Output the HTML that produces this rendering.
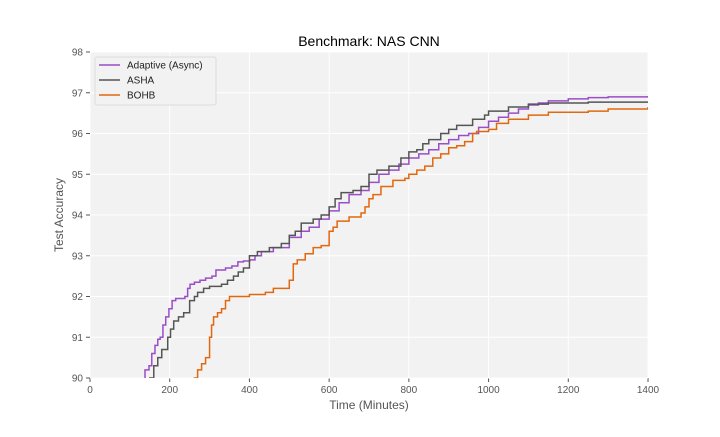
<!DOCTYPE html>
<html><head><meta charset="utf-8"><style>
body{margin:0;background:#fff;width:720px;height:432px;overflow:hidden;font-family:"Liberation Sans",sans-serif}
</style></head><body>
<svg id="chart" width="720" height="432" xmlns="http://www.w3.org/2000/svg" font-family="Liberation Sans, sans-serif"></svg>
<script>
const xTicks=[0,200,400,600,800,1000,1200,1400];
const yTicks=[90,91,92,93,94,95,96,97,98];
const seriesNames=["Adaptive (Async)","ASHA","BOHB"];
const seriesColors=["#9a4ec8","#555555","#e2680f"];
const adaptiveT=[138,148,155,163,170,176,183,190,198,206,215,238,245,251,262,276,290,306,316,340,356,371,385,401,414,430,460,500,530,550,575,600,625,650,680,700,725,750,775,800,825,850,875,900,925,950,975,1000,1025,1050,1075,1100,1125,1150,1200,1250,1300,1400];
const adaptiveV=[90.2,90.3,90.6,90.8,90.95,91.0,91.3,91.5,91.7,91.9,91.95,92.0,92.2,92.3,92.35,92.4,92.45,92.5,92.65,92.7,92.75,92.85,92.87,92.9,93.0,93.1,93.2,93.45,93.6,93.7,93.9,94.1,94.3,94.5,94.6,94.8,95.0,95.1,95.25,95.4,95.5,95.6,95.75,95.85,95.95,96.0,96.15,96.3,96.4,96.5,96.6,96.7,96.75,96.8,96.85,96.88,96.9,96.92];
const ashaT=[150,160,170,180,195,202,210,222,235,250,262,270,285,300,330,345,360,372,385,400,420,450,480,500,515,530,560,580,600,615,630,660,680,700,720,750,780,800,820,835,850,880,900,920,960,990,1000,1050,1100,1150,1250,1400];
const ashaV=[90.0,90.3,90.5,90.7,91.0,91.2,91.4,91.5,91.6,91.9,92.0,92.1,92.2,92.25,92.3,92.4,92.5,92.6,92.7,93.0,93.1,93.2,93.3,93.5,93.6,93.8,93.9,94.0,94.2,94.4,94.55,94.6,94.7,95.0,95.1,95.2,95.4,95.55,95.6,95.75,95.85,96.0,96.1,96.2,96.35,96.45,96.55,96.65,96.72,96.75,96.77,96.78];
const bohbT=[262,270,280,290,300,305,310,320,330,340,350,400,440,460,500,510,520,540,560,580,600,610,620,650,680,690,700,710,730,760,790,800,820,840,860,880,900,920,940,960,970,1000,1020,1050,1100,1150,1250,1300,1400];
const bohbV=[90.0,90.2,90.35,90.5,91.0,91.3,91.5,91.6,91.7,91.9,92.0,92.05,92.1,92.2,92.4,92.8,92.9,93.05,93.2,93.25,93.6,93.7,93.85,93.95,94.05,94.2,94.4,94.5,94.7,94.85,94.9,95.0,95.1,95.2,95.4,95.5,95.65,95.7,95.8,96.0,96.05,96.1,96.25,96.35,96.45,96.52,96.55,96.6,96.65];
const allT=[adaptiveT,ashaT,bohbT];
const allV=[adaptiveV,ashaV,bohbV];

const NS="http://www.w3.org/2000/svg";
const svg=document.getElementById("chart");
const L=90,R=648,T=52,B=378;
const xS=v=>L+(v-0)/(1400-0)*(R-L);
const yS=v=>B-(v-90)/(98-90)*(B-T);
function mk(tag,attrs,parent){const e=document.createElementNS(NS,tag);for(const k in attrs)e.setAttribute(k,attrs[k]);(parent||svg).appendChild(e);return e;}

const bg=mk("rect",{x:L,y:T,width:R-L,height:B-T,fill:"#f2f2f2"});


const defs=mk("defs",{});
const cp=mk("clipPath",{id:"clip"},defs);
mk("rect",{x:L,y:T,width:R-L,height:B-T},cp);

xTicks.forEach(t=>{
  const g=mk("line",{x1:xS(t),x2:xS(t),y1:T,y2:B,stroke:"#fff","stroke-width":1});
  
  
  mk("line",{x1:xS(t),x2:xS(t),y1:B,y2:B+4,stroke:"#555"});
  const tx=mk("text",{x:xS(t),y:B+15,"font-size":10,"text-anchor":"middle",fill:"#555"});
  tx.textContent=t;
  
  
});
yTicks.forEach(t=>{
  const g=mk("line",{x1:L,x2:R,y1:yS(t),y2:yS(t),stroke:"#fff","stroke-width":1});
  
  
  mk("line",{x1:L-4,x2:L,y1:yS(t),y2:yS(t),stroke:"#555"});
  const tx=mk("text",{x:L-7,y:yS(t)+3.5,"font-size":10,"text-anchor":"end",fill:"#555"});
  tx.textContent=t;
  
  
});

const lineNames=["adaptive-line","asha-line","bohb-line"];
allT.forEach((ts,i)=>{
  const vs=allV[i];
  let d="M"+xS(ts[0])+","+yS(90-0.5);
  d+=" L"+xS(ts[0])+","+yS(vs[0]);
  for(let j=1;j<ts.length;j++){d+=" H"+xS(ts[j])+" V"+yS(vs[j]);}
  d+=" H"+xS(1400);
  const p=mk("path",{d:d,fill:"none",stroke:seriesColors[i],"stroke-width":1.5,"clip-path":"url(#clip)"});
  
  
});

const title=mk("text",{x:(L+R)/2,y:46,"font-size":14,"text-anchor":"middle",fill:"#000"});
title.textContent="Benchmark: NAS CNN";


const xl=mk("text",{x:(L+R)/2,y:409,"font-size":12,"text-anchor":"middle",fill:"#555"});
xl.textContent="Time (Minutes)";


const yl=mk("text",{x:0,y:0,"font-size":12,"text-anchor":"middle",fill:"#555",transform:"translate(63,215) rotate(-90)"});
yl.textContent="Test Accuracy";



const lg=mk("g",{});


mk("rect",{x:95,y:57,width:121,height:48,fill:"#f2f2f2",stroke:"#dcdcdc",rx:2},lg);
seriesNames.forEach((n,i)=>{
  const y=65+i*15;
  const le=mk("g",{},lg);
  
  
  mk("line",{x1:99,x2:120,y1:y,y2:y,stroke:seriesColors[i],"stroke-width":1.5},le);
  const t=mk("text",{x:127,y:y+3.5,"font-size":10,fill:"#222"},le);
  t.textContent=n;
});
</script>
</body></html>
